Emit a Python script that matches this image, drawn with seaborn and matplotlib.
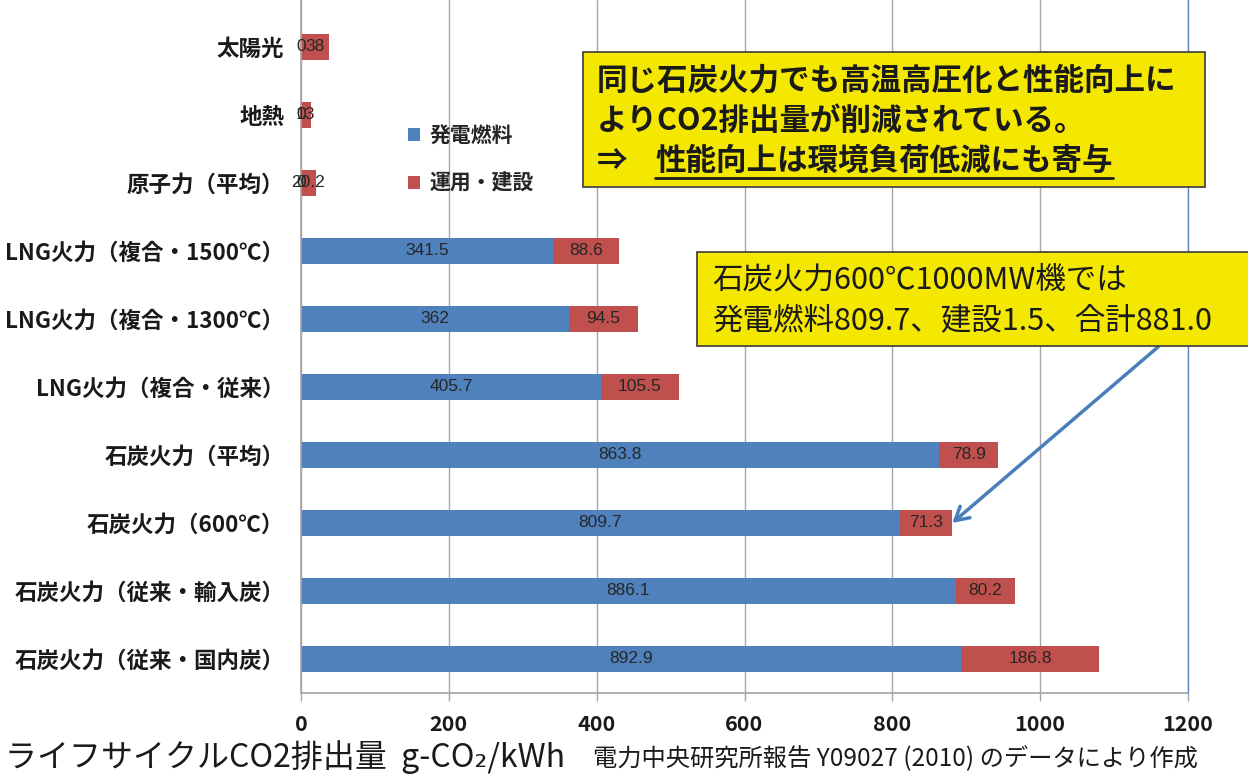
import matplotlib
matplotlib.use("Agg")
import matplotlib.pyplot as plt
import seaborn as sns
import pandas as pd
from matplotlib.patches import Rectangle, Patch
from matplotlib.lines import Line2D

# Life-cycle CO2 emissions by power source (g-CO2/kWh)
categories = [
    "太陽光", "地熱", "原子力（平均）",
    "LNG火力（複合・1500℃）", "LNG火力（複合・1300℃）", "LNG火力（複合・従来）",
    "石炭火力（平均）", "石炭火力（600℃）",
    "石炭火力（従来・輸入炭）", "石炭火力（従来・国内炭）",
]
fuel = [0, 0, 0, 341.5, 362, 405.7, 863.8, 809.7, 886.1, 892.9]
operation = [38, 13, 20.2, 88.6, 94.5, 105.5, 78.9, 71.3, 80.2, 186.8]
series_names = ["発電燃料", "運用・建設"]
x_ticks = [0, 200, 400, 600, 800, 1000, 1200]
highlight = "石炭火力（600℃）"

sns.set_theme(style="white")
JP = ["Noto Sans CJK JP", "DejaVu Sans"]
plt.rcParams["font.family"] = JP

BLUE = "#4f81bd"
RED = "#c0504d"
GRID = "#a6a6a6"
TXT = "#1a1a1a"

df = pd.DataFrame({"cat": categories, "fuel": fuel, "op": operation})
df["total"] = df["fuel"] + df["op"]

W, H = 1248, 776
fig = plt.figure(figsize=(W / 100, H / 100), dpi=100)
ax = fig.add_axes([301 / W, 83 / H, 887 / W, 693 / H])

# stacked bars: full total in red, fuel part drawn on top in blue
sns.barplot(data=df, y="cat", x="total", color=RED, width=0.38, orient="h",
            saturation=1, linewidth=0, ax=ax)
sns.barplot(data=df, y="cat", x="fuel", color=BLUE, width=0.38, orient="h",
            saturation=1, linewidth=0, ax=ax)

NUM = ["Liberation Sans", "DejaVu Sans"]
for i, row in df.iterrows():
    ax.text(row["fuel"] / 2, i, f"{row['fuel']:g}", ha="center", va="center",
            fontsize=12.5, color="#262626", family=NUM)
    ax.text(row["fuel"] + row["op"] / 2, i, f"{row['op']:g}", ha="center", va="center",
            fontsize=12.5, color="#262626", family=NUM)

ax.set_xlim(0, 1200)
ax.set_ylim(len(categories) - 0.5, -0.69)
ax.set_xticks(x_ticks)
ax.set_xticklabels([str(t) for t in x_ticks], fontsize=15.5, fontweight="bold", color=TXT)
ax.set_yticks(range(len(categories)))
ax.set_yticklabels(categories, fontsize=16.2, fontweight="bold", color=TXT)
ax.set_xlabel("")
ax.set_ylabel("")
ax.xaxis.grid(True, color=GRID, lw=1)
ax.set_axisbelow(True)
ax.tick_params(axis="x", direction="out", length=6, width=1, color=GRID, pad=9, bottom=True)
ax.tick_params(axis="y", length=0, pad=12)
ax.spines["top"].set_visible(False)
ax.spines["left"].set_color(GRID)
ax.spines["bottom"].set_color(GRID)
ax.spines["right"].set_color("#5b86c0")
ax.spines["right"].set_linewidth(1)

# legend
handles = [Patch(facecolor=BLUE, edgecolor="none"), Patch(facecolor=RED, edgecolor="none")]
ax.legend(handles, series_names, loc="upper left", bbox_to_anchor=(389 / W, 1 - 106 / H),
          bbox_transform=fig.transFigure, frameon=False, handlelength=0.6,
          handleheight=0.6, handletextpad=0.45, labelspacing=1.3,
          prop={"family": JP, "weight": "bold", "size": 15})

# message box
fig.patches.append(Rectangle((583 / W, 1 - 187 / H), 622 / W, 135 / H,
                             transform=fig.transFigure, facecolor="#f5e800",
                             edgecolor="#3a3a3a", lw=1.2, zorder=5))
fig.text(597 / W, 1 - 81 / H, "同じ石炭火力でも高温高圧化と性能向上に", fontsize=22,
         fontweight="bold", color=TXT, va="center", ha="left", zorder=6)
fig.text(597 / W, 1 - 121 / H, "よりCO2排出量が削減されている。", fontsize=22,
         fontweight="bold", color=TXT, va="center", ha="left", zorder=6)
fig.text(597 / W, 1 - 161 / H, "⇒", fontsize=22, fontweight="bold", color=TXT,
         va="center", ha="left", zorder=6)
under = fig.text(655 / W, 1 - 161 / H, "性能向上は環境負荷低減にも寄与", fontsize=22,
                 fontweight="bold", color=TXT, va="center", ha="left", zorder=6)

# callout box with arrow to the 600℃ bar total
fig.patches.append(Rectangle((697 / W, 1 - 346 / H), 600 / W, 94 / H,
                             transform=fig.transFigure, facecolor="#f5e800",
                             edgecolor="#3a3a3a", lw=1.2, zorder=5))
fig.text(712 / W, 1 - 280 / H, "石炭火力600℃1000MW機では", fontsize=22,
         color=TXT, va="center", ha="left", zorder=6)
fig.text(712 / W, 1 - 321 / H, "発電燃料809.7、建設1.5、合計881.0", fontsize=22,
         color=TXT, va="center", ha="left", zorder=6)
hi = categories.index(highlight)
ax.annotate("", xy=(df.loc[hi, "total"], hi), xycoords="data",
            xytext=(1158 / W, 1 - 347 / H), textcoords="figure fraction",
            arrowprops=dict(arrowstyle="->,head_length=0.8,head_width=0.45",
                            color="#4a7ebb", lw=2.5, shrinkA=0, shrinkB=0),
            zorder=7, annotation_clip=False)

# footer
fig.text(5 / W, 1 - 757 / H, "ライフサイクルCO2排出量  g-CO₂/kWh", fontsize=23,
         color=TXT, va="center", ha="left")
fig.text(593 / W, 1 - 759 / H, "電力中央研究所報告 Y09027 (2010) のデータにより作成",
         fontsize=17.5, color=TXT, va="center", ha="left")

# underline for the conclusion line
fig.canvas.draw()
bb = under.get_window_extent()
fig.add_artist(Line2D([bb.x0 / W, bb.x1 / W], [(H - 178) / H, (H - 178) / H],
                      transform=fig.transFigure, color=TXT, lw=2, zorder=7))

fig.savefig("out.png", dpi=100)
